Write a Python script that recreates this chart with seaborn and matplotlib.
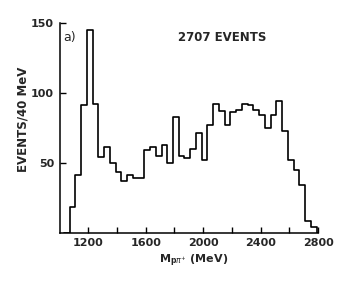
import numpy as np
import pandas as pd
import matplotlib
matplotlib.use("Agg")
import matplotlib.pyplot as plt
import seaborn as sns

# ---- data ----
bin_start = 1070          # MeV, left edge of first bin
bin_width = 40            # MeV
counts = [18, 41, 91, 145, 92, 54, 61, 50, 43, 37, 41, 39, 39, 59, 61, 55,
          63, 50, 83, 55, 53, 60, 71, 52, 77, 92, 87, 77, 86, 88, 92, 91,
          88, 84, 75, 84, 94, 73, 52, 45, 34, 8, 4]
x_major_ticks = [1200, 1600, 2000, 2400, 2800]
x_minor_ticks = [1400, 1800, 2200, 2600]
y_ticks = [50, 100, 150]
panel_label = "a)"
events_label = "2707 EVENTS"
x_label = r"$\mathbf{M}_{\mathbf{p}\pi^{+}}$ (MeV)"
y_label = "EVENTS/40 MeV"

# ---- build histogram inputs (pad with empty bins so outline drops to 0) ----
padded = [0] + counts + [0]
edges = [float(bin_start - bin_width + bin_width * i) for i in range(len(padded) + 1)]
centers = [(edges[i] + edges[i + 1]) / 2 for i in range(len(padded))]
df = pd.DataFrame({"mass": centers, "n": [float(v) for v in padded]})

sns.set_style("ticks")
plt.rcParams["font.family"] = ["DejaVu Sans"]

fig = plt.figure(figsize=(3.55, 2.85), dpi=100)
ax = fig.add_axes([59.6 / 355, 52.5 / 285, 258.4 / 355, 209.5 / 285])

sns.histplot(data=df, x="mass", weights="n", bins=edges, element="step",
             fill=False, color="black", linewidth=1.2, ax=ax)

ax.set_xlim(1000, 2800)
ax.set_ylim(0, 150)
sns.despine(ax=ax)
for s in ("left", "bottom"):
    ax.spines[s].set_linewidth(1.1)
    ax.spines[s].set_color("black")

ax.set_xticks(x_major_ticks)
ax.set_xticks(x_minor_ticks, minor=True)
ax.set_yticks(y_ticks)
ax.tick_params(axis="both", which="both", direction="in", color="black",
               width=1.0)
ax.tick_params(axis="x", which="major", length=4, pad=4, labelsize=8)
ax.tick_params(axis="x", which="minor", length=4)
ax.tick_params(axis="y", which="major", length=4, pad=4, labelsize=8)
for lab in ax.get_xticklabels() + ax.get_yticklabels():
    lab.set_fontweight("bold")

ax.set_xlabel(x_label, fontsize=8, fontweight="bold", va="top")
ax.xaxis.set_label_coords(0.52, -0.098)
ax.set_ylabel(y_label, fontsize=8.5, fontweight="bold", va="center")
ax.yaxis.set_label_coords(-0.142, 0.542)

ax.text(0.013, 0.931, panel_label, transform=ax.transAxes, fontsize=9,
        ha="left", va="center")
ax.text(0.629, 0.931, events_label, transform=ax.transAxes, fontsize=8.5,
        fontweight="bold", ha="center", va="center")

fig.savefig("out.png", dpi=100, facecolor="white")
